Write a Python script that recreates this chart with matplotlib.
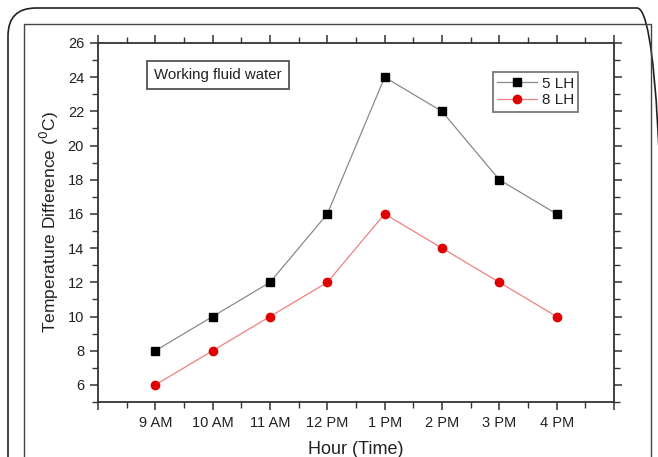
import matplotlib
matplotlib.use("Agg")
import matplotlib.pyplot as plt
from matplotlib.patches import FancyBboxPatch, Rectangle
from matplotlib.transforms import IdentityTransform
from matplotlib.ticker import MultipleLocator, FixedLocator

plt.rcParams['font.family'] = ['Liberation Sans', 'DejaVu Sans']

hours = ['9 AM', '10 AM', '11 AM', '12 PM', '1 PM', '2 PM', '3 PM', '4 PM']
lh5 = [8, 10, 12, 16, 24, 22, 18, 16]
lh8 = [6, 8, 10, 12, 16, 14, 12, 10]
xpos = list(range(1, len(hours) + 1))

W, H = 658, 457
fig = plt.figure(figsize=(W / 100, H / 100), dpi=100)

# outer rounded frame (pixel coordinates) and inner frame
outer = FancyBboxPatch((8, -60), 665 - 8, (H - 8) + 60,
                       boxstyle="round,pad=0,rounding_size=28",
                       transform=IdentityTransform(), fill=False, edgecolor='#222222',
                       linewidth=1.2)
fig.patches.append(outer)
inner = Rectangle((24, -20), 651 - 24, (H - 24) + 20,
                  transform=IdentityTransform(), fill=False, edgecolor='#444444', linewidth=1.0)
fig.patches.append(inner)

ax = fig.add_axes([98 / W, 1 - 402 / H, (614 - 98) / W, (402 - 43) / H])

ax.plot(xpos, lh5, color='#8a8a8a', linewidth=0.9, marker='s', markersize=5.5,
        markerfacecolor='black', markeredgecolor='black', label='5 LH')
ax.plot(xpos, lh8, color='#f08080', linewidth=0.9, marker='o', markersize=6,
        markerfacecolor='#e00000', markeredgecolor='#e00000', label='8 LH')

ax.set_xlim(0, 9)
ax.set_ylim(5, 26)
ax.xaxis.set_major_locator(FixedLocator(range(0, 10)))
ax.set_xticklabels([''] + hours + [''])
ax.xaxis.set_minor_locator(MultipleLocator(0.5))
ax.yaxis.set_major_locator(FixedLocator(range(6, 27, 2)))
ax.yaxis.set_minor_locator(MultipleLocator(1))

for s in ax.spines.values():
    s.set_color('#333333')
    s.set_linewidth(1.3)

ax.tick_params(which='both', direction='out', top=True, right=True, colors='#333333',
               labelsize=10.5, labelcolor='#222222')
ax.tick_params(which='major', length=6, width=1.1, pad=4)
ax.tick_params(which='minor', length=4, width=1.0)
ax.tick_params(axis='x', which='both', labeltop=False)
ax.tick_params(axis='y', which='both', labelright=False)

ax.set_xlabel('Hour (Time)', fontsize=13, color='#222222', labelpad=8)
ax.set_ylabel('Temperature Difference ($^0$C)', fontsize=12.5, color='#222222', labelpad=5)

leg = ax.legend(loc='upper right', bbox_to_anchor=(0.931, 0.919), fontsize=11,
                frameon=True, fancybox=False, handlelength=2.6, borderpad=0.3,
                labelspacing=0.15, handletextpad=0.3, borderaxespad=0)
leg.get_frame().set_edgecolor('#555555')
leg.get_frame().set_linewidth(1.3)
for t in leg.get_texts():
    t.set_color('#222222')

ax.text(0.2326, 0.911, 'Working fluid water', transform=ax.transAxes, fontsize=10.8,
        color='#222222', va='center', ha='center',
        bbox=dict(boxstyle='square,pad=0.45', facecolor='white', edgecolor='#555555', linewidth=1.3))

fig.savefig('out.png', dpi=100)
